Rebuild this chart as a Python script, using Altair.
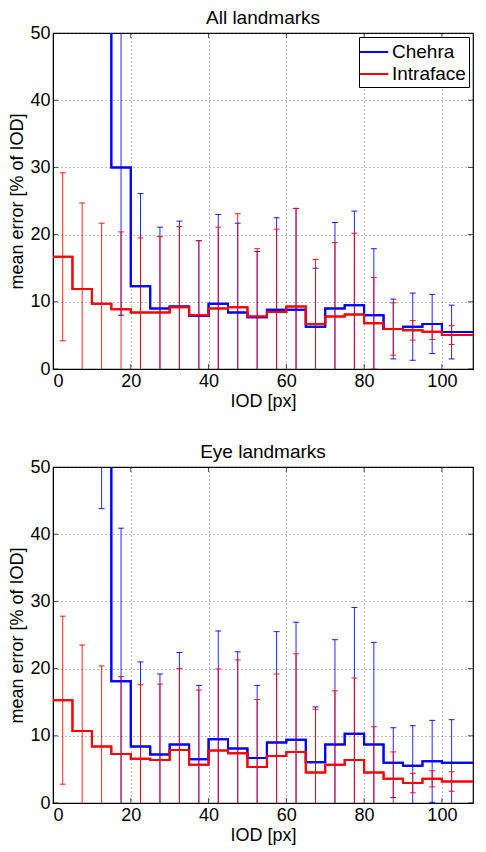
import altair as alt
import pandas as pd

# bin starts (IOD in px), each bin 5 px wide; last step drawn to 110
bin_start = list(range(0, 105, 5))
x_end = 110
x_max = 108
methods = ["Chehra", "Intraface"]
colors = ["#0000ff", "#ff0000"]

# ---- All landmarks ----
all_intraface_mean = [16.7, 11.9, 9.7, 8.9, 8.4, 8.4, 9.2, 8.0, 9.0, 9.2, 7.8,
                      8.5, 9.3, 6.7, 7.8, 8.1, 6.8, 5.95, 5.75, 5.55, 5.05]
all_intraface_std = [12.5, 12.8, 12.0, 11.5, 11.1, 11.3, 12.0, 11.1, 12.1, 13.9, 10.1,
                     12.3, 14.6, 9.6, 11.0, 12.1, 6.8, 3.9, 1.45, 1.15, 1.4]
all_chehra_mean = [None, None, 65.0, 30.0, 12.3, 9.0, 9.3, 7.9, 9.7, 8.4, 7.7,
                   8.8, 8.8, 6.3, 9.0, 9.5, 8.0, 5.95, 6.3, 6.7, 5.5]
all_chehra_std = [None, None, 10.0, 22.0, 13.8, 12.1, 12.7, 11.2, 13.3, 13.3, 9.8,
                  13.7, 15.1, 8.7, 12.8, 14.0, 9.9, 4.45, 5.0, 4.4, 4.0]

# ---- Eye landmarks ----
eye_intraface_mean = [15.3, 10.7, 8.4, 7.3, 6.6, 6.4, 7.9, 5.7, 7.8, 7.4, 5.35,
                      7.0, 7.6, 4.55, 5.7, 6.4, 4.55, 3.6, 2.97, 3.6, 3.2]
eye_intraface_std = [12.5, 12.8, 12.0, 11.5, 11.0, 11.3, 12.1, 11.1, 12.15, 13.9, 10.05,
                     12.2, 14.6, 9.4, 11.0, 12.2, 6.8, 4.0, 1.45, 1.2, 1.45]
eye_chehra_mean = [None, None, 60.0, 18.1, 8.4, 7.2, 8.7, 6.5, 9.5, 8.1, 6.7,
                   9.0, 9.4, 6.05, 8.7, 10.3, 8.7, 6.0, 5.55, 6.2, 6.0]
eye_chehra_std = [None, None, 16.2, 22.8, 12.6, 12.0, 13.7, 11.0, 16.1, 14.4, 10.8,
                  16.5, 17.5, 8.25, 15.6, 18.8, 15.2, 5.2, 5.95, 6.1, 6.4]

x_ticks = [0, 20, 40, 60, 80, 100]
y_ticks = [0, 10, 20, 30, 40, 50]

FONT = "Liberation Sans"


def build_frames(series):
    line_rows, err_rows = [], []
    for method, mean, std in series:
        last = None
        for s, m, e in zip(bin_start, mean, std):
            if m is None:
                continue
            line_rows.append({"x": s, "y": m, "method": method})
            err_rows.append({"c": s + 2.5, "low": m - e, "high": m + e, "method": method})
            last = m
        line_rows.append({"x": x_end, "y": last, "method": method})
    return pd.DataFrame(line_rows), pd.DataFrame(err_rows)


legend = alt.Legend(title=None, orient="top-right", offset=4,
                    labelFont=FONT, labelFontSize=19, labelColor="black",
                    symbolType="M-1.3,0H1.3", symbolSize=484, symbolStrokeWidth=2,
                    symbolOpacity=1, labelOffset=6, rowPadding=0,
                    padding=3, strokeColor="black", fillColor="white")
color = alt.Color("method:N", scale=alt.Scale(domain=methods, range=colors),
                  legend=legend)

xtick_df = pd.DataFrame({"t": x_ticks})
ytick_df = pd.DataFrame({"t": y_ticks})


def panel(title, series):
    lines, errs = build_frames(series)
    xsc = alt.Scale(domain=[0, x_max], nice=False, zero=False)
    ysc = alt.Scale(domain=[0, 50], nice=False)
    base_err = alt.Chart(errs)
    rule = base_err.mark_rule(strokeWidth=1, opacity=0.85, clip=True).encode(
        x=alt.X("c:Q", scale=xsc),
        y=alt.Y("low:Q", scale=ysc),
        y2="high:Q", color=color)
    cap_lo = base_err.mark_tick(orient="horizontal", size=6, thickness=1,
                                opacity=0.9, clip=True).encode(
        x="c:Q", y="low:Q", color=color)
    cap_hi = base_err.mark_tick(orient="horizontal", size=6, thickness=1,
                                opacity=0.9, clip=True).encode(
        x="c:Q", y="high:Q", color=color)
    line = alt.Chart(lines).mark_line(interpolate="step-after", strokeWidth=2,
                                      clip=True).encode(
        x=alt.X("x:Q", scale=xsc,
                axis=alt.Axis(values=x_ticks, title="IOD [px]", grid=True)),
        y=alt.Y("y:Q", scale=ysc,
                axis=alt.Axis(values=y_ticks, title="mean error [% of IOD]", grid=True)),
        color=color, order=alt.Order("x:Q"))
    # inward tick marks on all four sides (MATLAB box style)
    xt = alt.Chart(xtick_df)
    xt_bot = xt.mark_tick(orient="vertical", size=10, thickness=1, color="black",
                          clip=True).encode(x=alt.X("t:Q", scale=xsc), y=alt.datum(0))
    xt_top = xt.mark_tick(orient="vertical", size=10, thickness=1, color="black",
                          clip=True).encode(x=alt.X("t:Q", scale=xsc), y=alt.datum(50))
    yt = alt.Chart(ytick_df)
    yt_left = yt.mark_tick(orient="horizontal", size=10, thickness=1, color="black",
                           clip=True).encode(y=alt.Y("t:Q", scale=ysc), x=alt.datum(0))
    yt_right = yt.mark_tick(orient="horizontal", size=10, thickness=1, color="black",
                            clip=True).encode(y=alt.Y("t:Q", scale=ysc), x=alt.datum(x_max))
    return alt.layer(line, rule, cap_lo, cap_hi, line,
                     xt_bot, xt_top, yt_left, yt_right).properties(
        width=420, height=336,
        title=alt.TitleParams(title, fontSize=19, font=FONT, fontWeight="normal",
                              offset=-7, dy=-3, anchor="middle", color="black"))


top = panel("All landmarks", [("Chehra", all_chehra_mean, all_chehra_std),
                              ("Intraface", all_intraface_mean, all_intraface_std)])
bottom = panel("Eye landmarks", [("Chehra", eye_chehra_mean, eye_chehra_std),
                                 ("Intraface", eye_intraface_mean, eye_intraface_std)])

chart = alt.vconcat(top, bottom, spacing=31).properties(
    padding={"left": 0, "top": 0, "right": 0, "bottom": 0}
).configure_view(stroke="black", strokeWidth=1.2).configure_axis(
    labelFont=FONT, titleFont=FONT, labelFontSize=18, titleFontSize=18,
    titleFontWeight="normal", labelColor="black", titleColor="black",
    gridColor="#444444", gridDash=[1, 3], gridWidth=0.8, gridOpacity=0.9,
    domainColor="black", ticks=False, labelPadding=3, domain=True
).configure_axisY(titlePadding=3).configure_axisX(titlePadding=2)

chart.save("out.html", embed_options={"renderer": "svg", "actions": False})
